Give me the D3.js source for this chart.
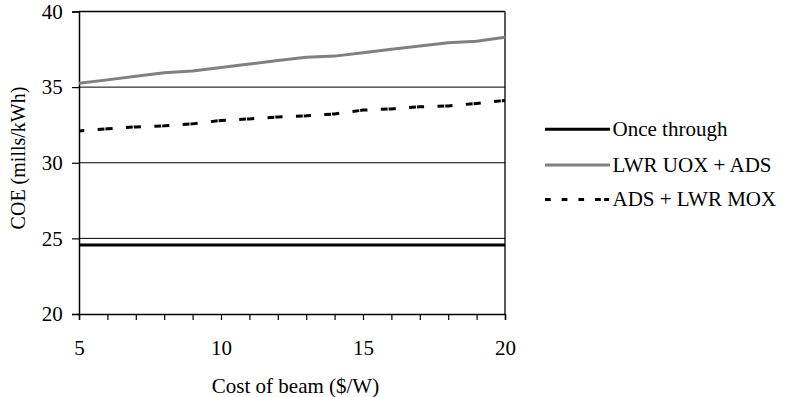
<!DOCTYPE html>
<html>
<head>
<meta charset="utf-8">
<script src="https://cdn.jsdelivr.net/npm/d3@7"></script>
<style>
  html, body { margin: 0; padding: 0; background: #fff; }
  svg { display: block; }
  svg text { font-family: 'Liberation Serif', 'Times New Roman', serif; fill: #000; }
</style>
</head>
<body>
<svg id="chart" width="786" height="397"></svg>
<script>
// ---- data ----
const costs = [5, 6, 7, 8, 9, 10, 11, 12, 13, 14, 15, 16, 17, 18, 19, 20];
const onceThrough = [24.56, 24.56, 24.56, 24.56, 24.56, 24.56, 24.56, 24.56, 24.56, 24.56, 24.56, 24.56, 24.56, 24.56, 24.56, 24.56];
const lwrUoxAds = [35.25, 35.48, 35.72, 35.95, 36.06, 36.3, 36.53, 36.76, 36.98, 37.05, 37.28, 37.5, 37.72, 37.93, 38.03, 38.3];
const adsLwrMox = [32.1, 32.24, 32.37, 32.44, 32.57, 32.8, 32.9, 33.03, 33.1, 33.23, 33.48, 33.56, 33.7, 33.76, 33.92, 34.12];
const seriesNames = ["Once through", "LWR UOX + ADS", "ADS + LWR MOX"];
const yTicks = [20, 25, 30, 35, 40];
const xLabelTicks = [5, 10, 15, 20];
const xTitle = "Cost of beam ($/W)";
const yTitle = "COE (mills/kWh)";

// ---- layout ----
const FS = 21;
const FONT = "'Liberation Serif', 'Times New Roman', serif";
const svg = d3.select("#chart");
const pLeft = 79, pRight = 505, pTop = 11.5, pBottom = 314;
const x = d3.scaleLinear().domain([5, 20]).range([pLeft, pRight]);
const y = d3.scaleLinear().domain([20, 40]).range([pBottom, pTop]);

// gridlines
svg.append("g").selectAll("line").data(yTicks.filter(v => v > 20)).join("line")
  .attr("x1", pLeft).attr("x2", pRight)
  .attr("y1", d => y(d)).attr("y2", d => y(d))
  .attr("stroke", "#000").attr("stroke-width", 1);

// right border
svg.append("line").attr("x1", pRight).attr("x2", pRight).attr("y1", pTop).attr("y2", pBottom)
  .attr("stroke", "#000").attr("stroke-width", 1.3);

// y axis
const yAxis = svg.append("g").attr("transform", `translate(${pLeft},0)`)
  .call(d3.axisLeft(y).tickValues(yTicks).tickSize(7).tickPadding(9.3).tickFormat(d3.format("d")))
  .attr("font-family", FONT).attr("font-size", FS);
yAxis.select(".domain").attr("stroke", "#000").attr("stroke-width", 1.5);
yAxis.selectAll(".tick line").attr("stroke", "#000").attr("stroke-width", 1.2);
yAxis.selectAll("text").attr("dy", "0.32em");

// x axis
const xAxis = svg.append("g").attr("transform", `translate(0,${pBottom})`)
  .call(d3.axisBottom(x).tickValues(costs).tickSize(6)
    .tickFormat(d => xLabelTicks.includes(d) ? String(d) : ""))
  .attr("font-family", FONT).attr("font-size", FS);
xAxis.select(".domain").attr("stroke", "#000").attr("stroke-width", 1.5);
xAxis.selectAll(".tick line").attr("stroke", "#000").attr("stroke-width", 1.2);
xAxis.selectAll("text").attr("y", 41).attr("dy", 0);

// series
const line = d3.line().x((d, i) => x(costs[i])).y(d => y(d));
svg.append("path").datum(onceThrough).attr("d", line)
  .attr("fill", "none").attr("stroke", "#000").attr("stroke-width", 3);
svg.append("path").datum(lwrUoxAds).attr("d", line)
  .attr("fill", "none").attr("stroke", "#808080").attr("stroke-width", 3);
svg.append("path").datum(adsLwrMox).attr("d", line)
  .attr("fill", "none").attr("stroke", "#000").attr("stroke-width", 3)
  .attr("stroke-dasharray", "7.2,13.4,6.8,1").attr("stroke-dashoffset", 1.9);

// top border (drawn over)
svg.append("line").attr("x1", pLeft).attr("x2", pRight).attr("y1", pTop).attr("y2", pTop)
  .attr("stroke", "#000").attr("stroke-width", 1.3);

// titles
svg.append("text").attr("x", 295.5).attr("y", 393).attr("text-anchor", "middle")
  .attr("font-family", FONT).attr("font-size", FS).text(xTitle);
svg.append("text").attr("transform", "translate(25,158) rotate(-90)")
  .attr("text-anchor", "middle").attr("font-family", FONT).attr("font-size", 20).text(yTitle);

// legend
const legendRows = [
  { name: seriesNames[0], color: "#000", dash: null, y: 129.3 },
  { name: seriesNames[1], color: "#808080", dash: null, y: 165 },
  { name: seriesNames[2], color: "#000", dash: "5.7,11,5.7,11,5.7,11,5.7,3.3,5", y: 199.5 }
];
const lg = svg.append("g");
legendRows.forEach(r => {
  lg.append("line").attr("x1", 545).attr("x2", 610).attr("y1", r.y).attr("y2", r.y)
    .attr("stroke", r.color).attr("stroke-width", 3)
    .attr("stroke-dasharray", r.dash);
  lg.append("text").attr("x", 612.5).attr("y", r.y).attr("dy", "0.33em")
    .attr("font-family", FONT).attr("font-size", FS).text(r.name);
});
</script>
</body>
</html>
